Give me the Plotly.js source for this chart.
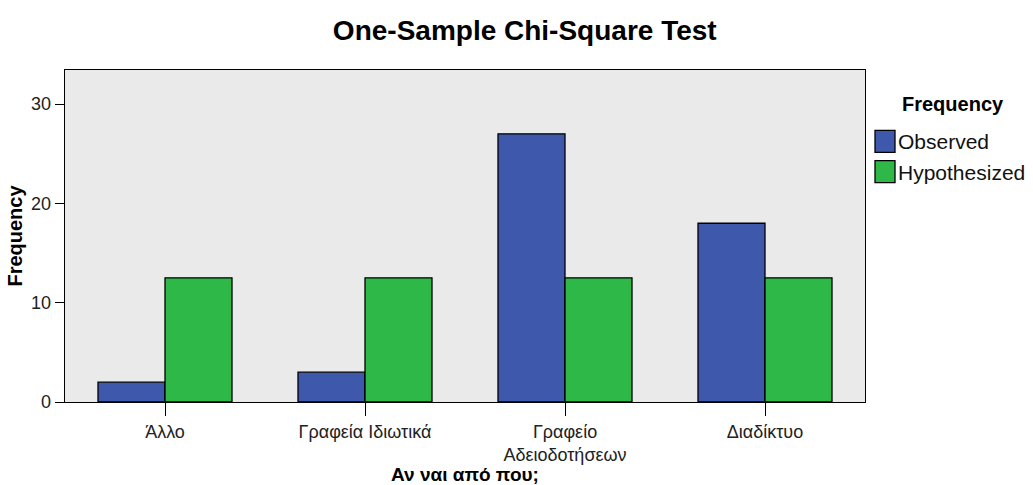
<!DOCTYPE html>
<html>
<head>
<meta charset="utf-8">
<script src="https://cdn.plot.ly/plotly-3.0.1.min.js"></script>
<style>
html,body{margin:0;padding:0;background:#fff;}
#chart{width:1033px;height:485px;}
</style>
</head>
<body>
<div id="chart"></div>
<script>
const categories = ["Άλλο", "Γραφεία Ιδιωτικά", "Γραφείο<br>Αδειοδοτήσεων", "Διαδίκτυο"];
const observed = [2, 3, 27, 18];
const hypothesized = [12.5, 12.5, 12.5, 12.5];
const yTicks = [0, 10, 20, 30];

const font = "Liberation Sans, Arial, sans-serif";
const traces = [
  {type: "bar", name: "Observed", x: categories, y: observed,
   marker: {color: "#3E58AC", line: {color: "#000", width: 1.3}}},
  {type: "bar", name: "Hypothesized", x: categories, y: hypothesized,
   marker: {color: "#2EB848", line: {color: "#000", width: 1.3}}}
];
const layout = {
  width: 1033, height: 485,
  margin: {l: 65, r: 168, t: 70, b: 83, pad: 0, autoexpand: false},
  paper_bgcolor: "#fff", plot_bgcolor: "#EAEAEA",
  font: {family: font, size: 18, color: "#222"},
  barmode: "group", bargap: 0.33, bargroupgap: 0,
  title: {text: "<b>One-Sample Chi-Square Test</b>", x: 0.508, xref: "container", y: 0.938, yref: "container", yanchor: "middle",
          font: {family: font, size: 28, color: "#000"}},
  xaxis: {
    showline: true, linecolor: "#000", linewidth: 1.3, mirror: true,
    ticks: "outside", ticklen: 13, tickcolor: "#000", tickwidth: 1,
    tickfont: {family: font, size: 18, color: "#222"},
    title: {text: "<b>Αν ναι από που;</b>", font: {family: font, size: 19, color: "#000"}, standoff: 5},
    showgrid: false, zeroline: false
  },
  yaxis: {
    range: [0, 33.43], tickvals: yTicks, ticktext: yTicks.map(String),
    showline: true, linecolor: "#000", linewidth: 1.3, mirror: true,
    ticks: "outside", ticklen: 9, tickcolor: "#000", tickwidth: 1,
    tickfont: {family: font, size: 18, color: "#222"},
    title: {text: "<b>Frequency</b>", font: {family: font, size: 20, color: "#000"}, standoff: 3},
    showgrid: false, zeroline: false
  },
  legend: {
    x: 1.0, xanchor: "left", y: 0.846, yanchor: "top",
    font: {family: font, size: 21, color: "#111"},
    itemwidth: 30, tracegroupgap: 0, bgcolor: "rgba(0,0,0,0)"
  },
  annotations: [{
    text: "<b>Frequency</b>", xref: "paper", yref: "paper", x: 1.044, y: 0.898,
    xanchor: "left", yanchor: "middle", showarrow: false,
    font: {family: font, size: 20, color: "#000"}
  }],
  showlegend: true
};
Plotly.newPlot("chart", traces, layout, {displayModeBar: false, staticPlot: true}).then(gd => {
  gd.querySelectorAll(".legendpoints path").forEach(p => {
    p.setAttribute("d", "M10,11H-10V-11H10Z");
  });
  gd.querySelectorAll(".legend text.legendtext").forEach(t => {
    const x = parseFloat(t.getAttribute("x") || "0");
    t.setAttribute("x", x - 7);
  });
});
</script>
</body>
</html>
